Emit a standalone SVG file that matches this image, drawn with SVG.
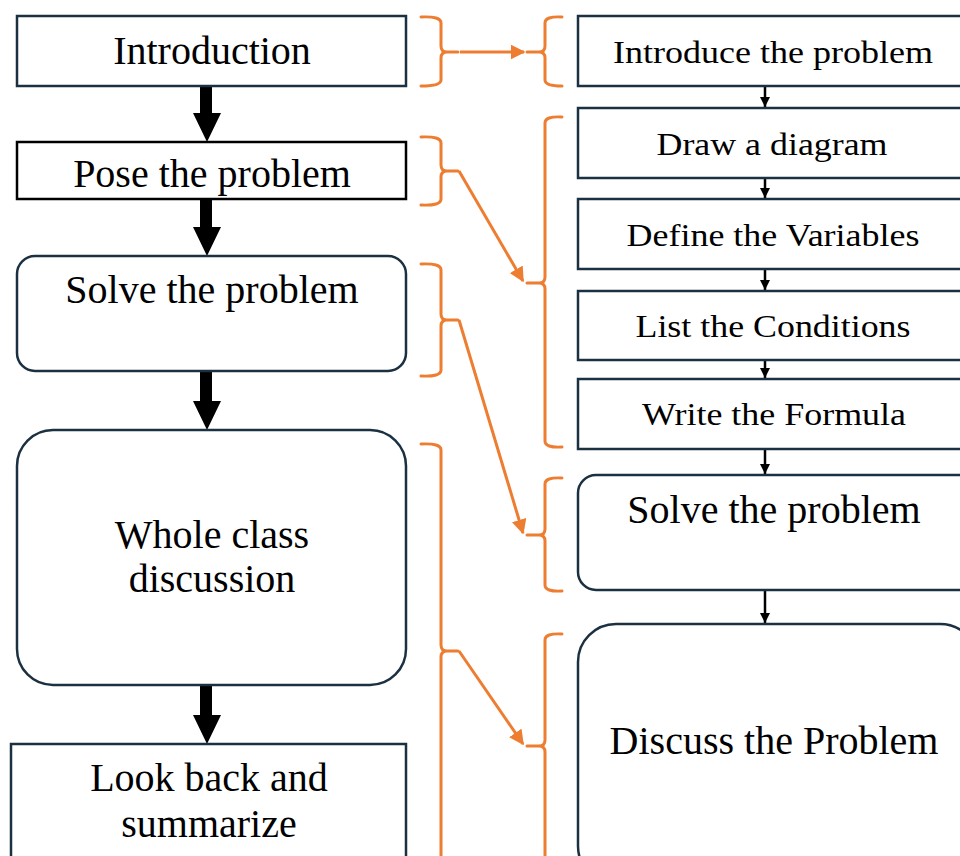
<svg xmlns="http://www.w3.org/2000/svg" width="960" height="856" viewBox="0 0 960 856">
<defs>
<style>
.box{fill:#fff;stroke:#1b3142;stroke-width:2.5}
.boxk{fill:#fff;stroke:#000;stroke-width:2.5}
.t{font-family:"Liberation Serif","Times New Roman",serif;font-size:40px;fill:#000;text-anchor:middle}
.ts{font-family:"Liberation Serif","Times New Roman",serif;font-size:31px;fill:#000;text-anchor:middle}
.brace{fill:none;stroke:#ED7D31;stroke-width:3;stroke-linejoin:round;stroke-linecap:round}
.ol{fill:none;stroke:#ED7D31;stroke-width:3}
.small{stroke:#000;stroke-width:2.5}
</style>
<marker id="oa" viewBox="0 0 10 10" refX="9" refY="5" markerWidth="5" markerHeight="5" orient="auto" markerUnits="strokeWidth">
<path d="M0,0 L10,5 L0,10 z" fill="#ED7D31"/>
</marker>
<marker id="ka" viewBox="0 0 10 10" refX="10" refY="5" markerWidth="4" markerHeight="4" orient="auto" markerUnits="strokeWidth">
<path d="M0,0 L10,5 L0,10 z" fill="#000"/>
</marker>
</defs>
<rect width="960" height="856" fill="#fff"/>

<g id="connectors">
<!-- left thick arrows -->
<path d="M200,86 V113 H193 L207,142 L221,113 H212 V86 Z" fill="#000"/>
<path d="M200,199 V227 H193 L207,256 L221,227 H212 V199 Z" fill="#000"/>
<path d="M200,371 V401 H193 L207,430 L221,401 H212 V371 Z" fill="#000"/>
<path d="M200,685 V715 H193 L207,744 L221,715 H212 V685 Z" fill="#000"/>
<!-- right small arrows -->
<line class="small" x1="765" y1="86" x2="765" y2="107" marker-end="url(#ka)"/>
<line class="small" x1="765" y1="178" x2="765" y2="198" marker-end="url(#ka)"/>
<line class="small" x1="765" y1="269" x2="765" y2="290" marker-end="url(#ka)"/>
<line class="small" x1="765" y1="360" x2="765" y2="378" marker-end="url(#ka)"/>
<line class="small" x1="765" y1="449" x2="765" y2="474" marker-end="url(#ka)"/>
<line class="small" x1="765" y1="590" x2="765" y2="623" marker-end="url(#ka)"/>
<!-- braces left -->
<path class="brace" d="M421,17 Q441,16 441,23 V46 Q441,52 447,52 H458 M447,52 Q441,52 441,58 V80 Q441,86 421,86"/>
<path class="brace" d="M421,137 Q441,136 441,143 V165 Q441,171 447,171 H458 M447,171 Q441,171 441,177 V199 Q441,206 421,205"/>
<path class="brace" d="M421,264 Q441,263 441,270 V314 Q441,320 447,320 H458 M447,320 Q441,320 441,326 V370 Q441,377 421,376"/>
<path class="brace" d="M421,444 Q441,443 441,450 V645 Q441,651 447,651 H458 M447,651 Q441,651 441,657 V860"/>
<!-- braces right -->
<path class="brace" d="M562,17 Q545,16 545,23 V46 Q545,52 539,52 H527 M539,52 Q545,52 545,58 V80 Q545,86 562,86"/>
<path class="brace" d="M562,117 Q545,116 545,123 V277 Q545,283 539,283 H527 M539,283 Q545,283 545,289 V441 Q545,448 562,447"/>
<path class="brace" d="M562,478 Q545,477 545,484 V529 Q545,535 539,535 H527 M539,535 Q545,535 545,541 V585 Q545,592 562,591"/>
<path class="brace" d="M562,634 Q545,633 545,640 V740 Q545,746 539,746 H527 M539,746 Q545,746 545,752 V860"/>
<!-- orange connectors -->
<line class="ol" x1="460" y1="52" x2="524" y2="52" marker-end="url(#oa)"/>
<line class="ol" x1="459" y1="171" x2="523" y2="281" marker-end="url(#oa)"/>
<line class="ol" x1="459" y1="320" x2="523" y2="533" marker-end="url(#oa)"/>
<line class="ol" x1="459" y1="651" x2="523" y2="744" marker-end="url(#oa)"/>
</g>

<g id="n-introduction">
<rect class="box" x="17" y="16" width="389" height="70"/>
<text class="t" x="212" y="64">Introduction</text>
</g>
<g id="n-pose">
<rect class="boxk" x="17" y="142" width="389" height="57"/>
<text class="t" x="212" y="187">Pose the problem</text>
</g>
<g id="n-solve-left">
<rect class="box" x="17" y="256" width="389" height="115" rx="18"/>
<text class="t" x="212" y="303">Solve the problem</text>
</g>
<g id="n-whole-class">
<rect class="box" x="17" y="430" width="389" height="255" rx="36"/>
<text class="t" x="212" y="548">Whole class</text>
<text class="t" x="212" y="592">discussion</text>
</g>
<g id="n-look-back">
<rect class="box" x="11" y="744" width="395" height="130"/>
<text class="t" x="209" y="791">Look back and</text>
<text class="t" x="209" y="837">summarize</text>
</g>

<g id="n-introduce">
<rect class="box" x="578" y="16" width="400" height="70"/>
<text class="ts" x="773" y="63" textLength="320" lengthAdjust="spacingAndGlyphs">Introduce the problem</text>
</g>
<g id="n-draw">
<rect class="box" x="578" y="108" width="400" height="70"/>
<text class="ts" x="772" y="155" textLength="231" lengthAdjust="spacingAndGlyphs">Draw a diagram</text>
</g>
<g id="n-define">
<rect class="box" x="578" y="199" width="400" height="70"/>
<text class="ts" x="773" y="246" textLength="293" lengthAdjust="spacingAndGlyphs">Define the Variables</text>
</g>
<g id="n-list">
<rect class="box" x="578" y="291" width="400" height="69"/>
<text class="ts" x="773" y="337" textLength="275" lengthAdjust="spacingAndGlyphs">List the Conditions</text>
</g>
<g id="n-write">
<rect class="box" x="578" y="379" width="400" height="70"/>
<text class="ts" x="774" y="425" textLength="264" lengthAdjust="spacingAndGlyphs">Write the Formula</text>
</g>
<g id="n-solve-right">
<rect class="box" x="578" y="475" width="400" height="115" rx="18"/>
<text class="t" x="774" y="523">Solve the problem</text>
</g>
<g id="n-discuss">
<rect class="box" x="578" y="624" width="400" height="260" rx="38"/>
<text class="t" x="774" y="754">Discuss the Problem</text>
</g>
</svg>
